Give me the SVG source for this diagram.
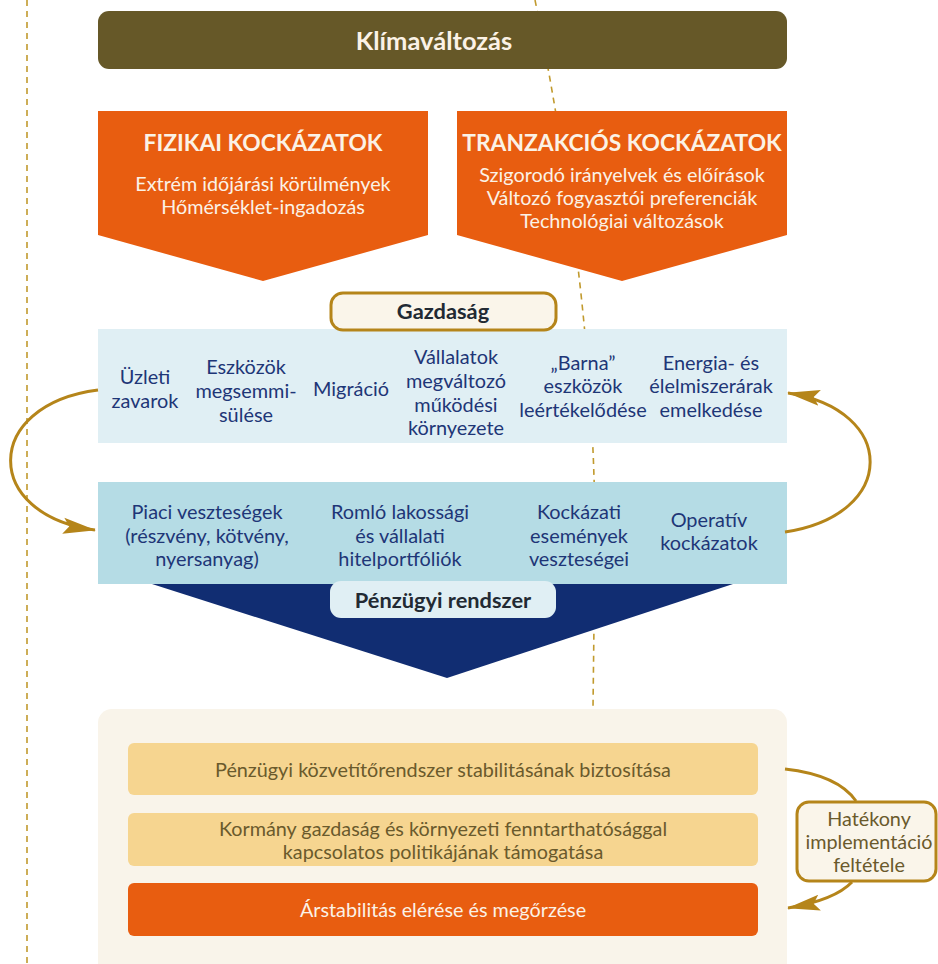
<svg xmlns="http://www.w3.org/2000/svg" width="938" height="964" viewBox="0 0 938 964">
<defs>
<style>
text{font-family:Lato,"Open Sans","Liberation Sans",sans-serif;text-anchor:middle}
.dash{fill:none;stroke:#C19A2E;stroke-width:1.6;stroke-dasharray:6 5}
.ttl{font-weight:700;font-size:22.8px;fill:#FBF2E6}
.sub{font-size:19.8px;fill:#FBF2E6}
.bt{font-size:19.9px;fill:#1E3677}
.lbl{font-weight:700;font-size:21.8px;fill:#222a33}
.pt{font-size:19.8px;fill:#6A5A2C}
.conn{fill:none;stroke:#B5851A;stroke-width:3}
</style>
<marker id="ah" markerUnits="userSpaceOnUse" markerWidth="34" markerHeight="18" viewBox="0 0 34 18" refX="32" refY="9" orient="auto">
<path d="M0,1 L33,9 L0,17 L6,9 z" fill="#B5851A"/>
</marker>
</defs>
<rect width="938" height="964" fill="#ffffff"/>
<g id="guides">
<line class="dash" x1="27" y1="0" x2="27" y2="964"/>
<path class="dash" d="M535,0 Q595,300 595,540 L593,708"/>
</g>
<g id="klimavaltozas">
<rect x="98" y="11" width="689" height="58" rx="11" fill="#665828"/>
<text x="434" y="50" style="font-weight:700;font-size:25.5px;fill:#FBF2E6">Klímaváltozás</text>
</g>
<g id="fizikai">
<polygon points="98,111 428,111 428,235 263,281 98,235" fill="#E85D10"/>
<text class="ttl" x="263" y="151">FIZIKAI KOCKÁZATOK</text>
<text class="sub" x="263" y="191">Extrém időjárási körülmények</text>
<text class="sub" x="263" y="214">Hőmérséklet-ingadozás</text>
</g>
<g id="tranzakcios">
<polygon points="457,111 787,111 787,235 622,281 457,235" fill="#E85D10"/>
<text class="ttl" x="622" y="151">TRANZAKCIÓS KOCKÁZATOK</text>
<text class="sub" x="622" y="182">Szigorodó irányelvek és előírások</text>
<text class="sub" x="622" y="205">Változó fogyasztói preferenciák</text>
<text class="sub" x="622" y="228">Technológiai változások</text>
</g>
<g id="gazdasag-band">
<rect x="98" y="329" width="689" height="114" fill="#E0EFF4"/>
<text class="bt" x="145" y="384">Üzleti</text>
<text class="bt" x="145" y="408">zavarok</text>
<text class="bt" x="246" y="374">Eszközök</text>
<text class="bt" x="246" y="398">megsemmi-</text>
<text class="bt" x="246" y="422">sülése</text>
<text class="bt" x="351" y="396">Migráció</text>
<text class="bt" x="456" y="364">Vállalatok</text>
<text class="bt" x="456" y="388">megváltozó</text>
<text class="bt" x="456" y="412">működési</text>
<text class="bt" x="456" y="435">környezete</text>
<text class="bt" x="583" y="370">„Barna”</text>
<text class="bt" x="583" y="393">eszközök</text>
<text class="bt" x="583" y="417">leértékelődése</text>
<text class="bt" x="711" y="370">Energia- és</text>
<text class="bt" x="711" y="393">élelmiszerárak</text>
<text class="bt" x="711" y="417">emelkedése</text>
</g>
<g id="gazdasag-label">
<rect x="331" y="293" width="225" height="37" rx="12" fill="#FAF5EA" stroke="#B5851A" stroke-width="3"/>
<text class="lbl" x="443" y="319">Gazdaság</text>
</g>
<g id="penzugyi-triangle">
<polygon points="152,584 733,584 447,678" fill="#112D72"/>
</g>
<g id="penzugyi-band">
<rect x="98" y="482" width="689" height="102" fill="#B5DCE5"/>
<text class="bt" x="207" y="519">Piaci veszteségek</text>
<text class="bt" x="207" y="543">(részvény, kötvény,</text>
<text class="bt" x="207" y="566">nyersanyag)</text>
<text class="bt" x="400" y="519">Romló lakossági</text>
<text class="bt" x="400" y="543">és vállalati</text>
<text class="bt" x="400" y="566">hitelportfóliók</text>
<text class="bt" x="579" y="519">Kockázati</text>
<text class="bt" x="579" y="543">események</text>
<text class="bt" x="579" y="566">veszteségei</text>
<text class="bt" x="709" y="527">Operatív</text>
<text class="bt" x="709" y="550">kockázatok</text>
</g>
<g id="penzugyi-label">
<rect x="330" y="581" width="226" height="37" rx="11" fill="#E0EFF4"/>
<text class="lbl" x="443" y="608">Pénzügyi rendszer</text>
</g>
<g id="celok">
<rect x="98" y="709" width="689" height="270" rx="14" fill="#F9F4EA"/>
</g>
<g id="cel1">
<rect x="128" y="743" width="630" height="52" rx="6" fill="#F6D590"/>
<text class="pt" x="443" y="777">Pénzügyi közvetítőrendszer stabilitásának biztosítása</text>
</g>
<g id="cel2">
<rect x="128" y="813" width="630" height="53" rx="6" fill="#F6D590"/>
<text class="pt" x="443" y="836">Kormány gazdaság és környezeti fenntarthatósággal</text>
<text class="pt" x="443" y="859">kapcsolatos politikájának támogatása</text>
</g>
<g id="cel3">
<rect x="128" y="883" width="630" height="53" rx="6" fill="#E85D10"/>
<text class="pt" x="443" y="917" style="fill:#FBF2E6">Árstabilitás elérése és megőrzése</text>
</g>
<g id="connectors">
<path class="conn" d="M98,390 C-18,405 -18,515 95,530" marker-end="url(#ah)"/>
<path class="conn" d="M785,532 C898,515 898,410 788,393" marker-end="url(#ah)"/>
<path class="conn" d="M785,769 Q838,775 856,801"/>
<path class="conn" d="M852,882 Q835,900 788,908" marker-end="url(#ah)"/>
</g>
<g id="hatekony">
<rect x="797" y="802" width="139" height="79" rx="12" fill="#FAF5EA" stroke="#B5851A" stroke-width="3"/>
<text class="pt" x="869" y="826">Hatékony</text>
<text class="pt" x="869" y="849">implementáció</text>
<text class="pt" x="869" y="872">feltétele</text>
</g>
</svg>
